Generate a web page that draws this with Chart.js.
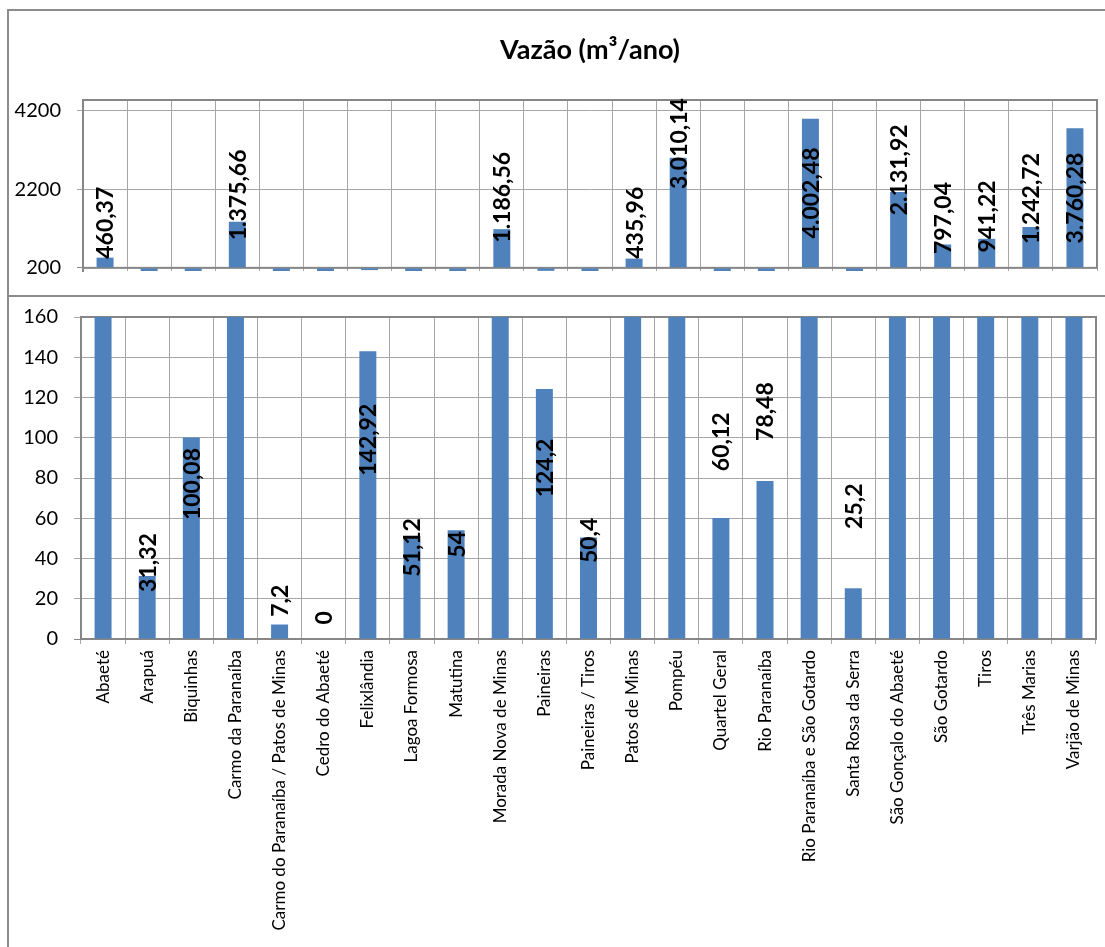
<!DOCTYPE html>
<html>
<head>
<meta charset="utf-8">
<script src="https://cdn.jsdelivr.net/npm/chart.js@4/dist/chart.umd.min.js"></script>
<style>
  html, body { margin: 0; padding: 0; background: #fff; width: 1105px; height: 947px; overflow: hidden; position: relative; }
  #frame { position: absolute; left: 7px; top: 9px; width: 1200px; height: 1000px; border-left: 2px solid #8c8c8c; border-top: 2px solid #8c8c8c; }
  #split { position: absolute; left: 7px; top: 295px; width: 1200px; height: 2px; background: #8c8c8c; }
  canvas { position: absolute; left: 0; }
  #upper { top: 0; }
  #lower { top: 297px; }
</style>
</head>
<body>
<div id="frame"></div>
<div id="split"></div>
<canvas id="upper" width="1180" height="295"></canvas>
<canvas id="lower" width="1180" height="650"></canvas>
<script>
const categories = [
  'Abaeté', 'Arapuá', 'Biquinhas', 'Carmo da Paranaíba',
  'Carmo do Paranaíba / Patos de Minas', 'Cedro do Abaeté', 'Felixlândia',
  'Lagoa Formosa', 'Matutina', 'Morada Nova de Minas', 'Paineiras',
  'Paineiras / Tiros', 'Patos de Minas', 'Pompéu', 'Quartel Geral',
  'Rio Paranaíba', 'Rio Paranaíba e São Gotardo', 'Santa Rosa da Serra',
  'São Gonçalo do Abaeté', 'São Gotardo', 'Tiros', 'Três Marias', 'Varjão de Minas'
];

// vazão em m³/ano
const flow = [
  460.37, 31.32, 100.08, 1375.66,
  7.2, 0, 142.92,
  51.12, 54, 1186.56, 124.2,
  50.4, 435.96, 3010.14, 60.12,
  78.48, 4002.48, 25.2,
  2131.92, 797.04, 941.22, 1242.72, 3760.28
];

const upperTicks = [200, 2200, 4200];
const lowerTicks = [0, 20, 40, 60, 80, 100, 120, 140, 160];

// where each value label is centred, in axis units (null = no label in that panel)
const upperLabelAt = [
  1350, null, null, 2060, null, null, null, null, null, 2000, null, null,
  1350, 3370, null, null, 2110, null, 2700, 1470, 1510, 1970, 1980
];
const lowerLabelAt = [
  null, 38, 77, null, 19, 10.5, 99, 45.5, 47, null, 85, 49,
  null, null, 98, 113, null, 66, null, null, null, null, null
];

const BAR = '#4f81bd';
const GRID = '#a6a6a6';
const AXIS = '#868686';

Chart.defaults.font.family = 'Lato';
Chart.defaults.color = '#000';

function formatBR(v) {
  const [whole, dec] = String(v).split('.');
  const grouped = whole.replace(/\B(?=(\d{3})+(?!\d))/g, '.');
  return dec ? grouped + ',' + dec : grouped;
}

const valueLabels = {
  id: 'valueLabels',
  afterDatasetsDraw(chart, args, opts) {
    const { ctx } = chart;
    const yScale = chart.scales.y;
    const bars = chart.getDatasetMeta(0).data;
    ctx.save();
    ctx.font = 'bold 23px Lato';
    ctx.fillStyle = '#000';
    ctx.textAlign = 'center';
    ctx.textBaseline = 'middle';
    bars.forEach((bar, i) => {
      const at = opts.anchors[i];
      if (at === null) return;
      ctx.save();
      ctx.translate(bar.x, yScale.getPixelForValue(at));
      ctx.rotate(-Math.PI / 2);
      ctx.fillText(formatBR(flow[i]), 0, 1);
      ctx.restore();
    });
    ctx.restore();
  }
};

// box round the plot area, bottom edge sitting on the given axis value
const plotFrame = {
  id: 'plotFrame',
  beforeDatasetsDraw(chart, args, opts) {
    const { ctx, chartArea } = chart;
    const bottom = chart.scales.y.getPixelForValue(opts.floor);
    ctx.save();
    ctx.strokeStyle = AXIS;
    ctx.lineWidth = 2;
    ctx.strokeRect(chartArea.left, chartArea.top, chartArea.right - chartArea.left, bottom - chartArea.top);
    ctx.restore();
  }
};

const barSet = (extra) => Object.assign({
  data: flow,
  backgroundColor: BAR,
  barPercentage: 0.385,
  categoryPercentage: 1
}, extra);

// fixed axis width, and no extra room reserved for the end labels
const fixWidth = (w) => (s) => { s.width = w; s.paddingTop = 0; s.paddingBottom = 0; };

// upper panel: the big values, 200 .. 4200
new Chart(document.getElementById('upper'), {
  type: 'bar',
  data: { labels: categories, datasets: [barSet({ base: 200 })] },
  options: {
    responsive: false,
    animation: false,
    layout: { padding: { left: 0, right: 83, top: 0, bottom: 0 } },
    plugins: {
      legend: { display: false },
      tooltip: { enabled: false },
      title: {
        display: true,
        fullSize: false,
        text: 'Vazão (m³/ano)',
        color: '#000',
        font: { family: 'Lato', size: 27, weight: 'bold' },
        padding: { top: 34, bottom: 33.6 }
      },
      valueLabels: { anchors: upperLabelAt },
      plotFrame: { floor: 200 }
    },
    scales: {
      x: {
        grid: { color: GRID, drawTicks: false, offset: true },
        border: { display: false },
        ticks: { display: false },
        afterFit(s) { s.height = 24; }
      },
      y: {
        min: 120,
        max: 4480,
        afterBuildTicks(s) { s.ticks = upperTicks.map(v => ({ value: v })); },
        grid: {
          color: c => (c.tick && c.tick.value === 200 ? AXIS : GRID),
          tickLength: 6
        },
        border: { color: AXIS, width: 2 },
        ticks: { font: { size: 20 }, padding: 16, callback: v => String(v) },
        afterFit: fixWidth(83)
      }
    }
  },
  plugins: [plotFrame, valueLabels]
});

// lower panel: the small values, 0 .. 160
new Chart(document.getElementById('lower'), {
  type: 'bar',
  data: { labels: categories, datasets: [barSet({})] },
  options: {
    responsive: false,
    animation: false,
    layout: { padding: { left: 0, right: 84, top: 20, bottom: 0 } },
    plugins: {
      legend: { display: false },
      tooltip: { enabled: false },
      valueLabels: { anchors: lowerLabelAt },
      plotFrame: { floor: 0 }
    },
    scales: {
      x: {
        grid: { color: GRID, offset: true, tickLength: 5 },
        border: { color: AXIS, width: 2 },
        ticks: { font: { size: 17 }, minRotation: 90, maxRotation: 90, autoSkip: false, padding: 6 },
        afterFit(s) { s.height = 308; s.paddingLeft = 0; s.paddingRight = 0; }
      },
      y: {
        min: 0,
        max: 160,
        afterBuildTicks(s) { s.ticks = lowerTicks.map(v => ({ value: v })); },
        grid: {
          color: c => (c.tick && c.tick.value === 0 ? AXIS : GRID),
          tickLength: 7
        },
        border: { color: AXIS, width: 2 },
        ticks: { font: { size: 20 }, padding: 16, callback: v => String(v) },
        afterFit: fixWidth(81)
      }
    }
  },
  plugins: [plotFrame, valueLabels]
});
</script>
</body>
</html>
